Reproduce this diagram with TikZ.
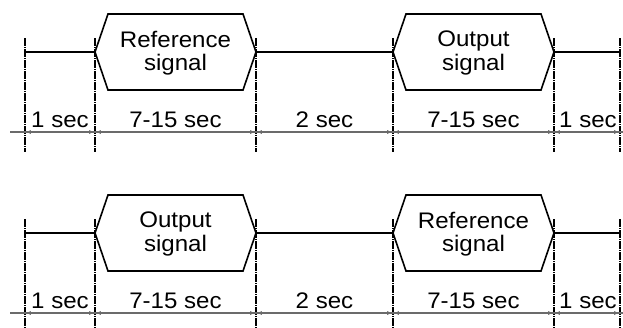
\documentclass[tikz,border=0pt]{standalone}
\usepackage{fontspec}
\setmainfont{Liberation Sans}[FakeStretch=1.07]
\usetikzlibrary{arrows.meta}
\tikzset{
  sigline/.style={line width=1.6pt, line join=miter},
  vline/.style={line width=1.6pt, dash pattern=on 8pt off 1pt on 1pt off 1pt},
  dimline/.style={draw=black!58, line width=1.4pt},
  dimarrow/.style={draw=black!58, line width=1pt, {Latex[length=5pt,width=4pt]}-{Latex[length=5pt,width=4pt]}, shorten <=0.8pt, shorten >=0.8pt},
  lbl/.style={font=\fontsize{22.5}{23.5}\selectfont, align=center, inner sep=0pt},
}
\newcommand\tmrow[4]{%
\begin{scope}[shift={(0,#1)}]
  % vertical marks
  \foreach \n/\x in {a/25,b/95,c/256,d/393,e/554,f/620}{
    \coordinate (#2\n t) at (\x,38);
    \coordinate (#2\n b) at (\x,152);
    \coordinate (#2\n s) at (\x,52);
    \coordinate (#2\n d) at (\x,132);
    \draw[vline] (#2\n t) -- (#2\n b);
  }
  % signal
  \draw[sigline] (#2as) -- (#2bs);
  \draw[sigline] (#2bs) -- (108,14) -- (243,14) -- (#2cs) -- (243,90) -- (108,90) -- cycle;
  \draw[sigline] (#2cs) -- (#2ds);
  \draw[sigline] (#2ds) -- (406,14) -- (541,14) -- (#2es) -- (541,90) -- (406,90) -- cycle;
  \draw[sigline] (#2es) -- (#2fs);
  \node[lbl] (#2h1) at (175.5,53) {#3};
  \node[lbl] (#2h2) at (473.5,53) {#4};
  % dimension line
  \coordinate (#2dl) at (10,132);
  \coordinate (#2dr) at (623,132);
  \draw[dimline] (#2dl) -- (#2dr);
  \draw[dimarrow] (#2ad) -- (#2bd);
  \draw[dimarrow] (#2bd) -- (#2cd);
  \draw[dimarrow] (#2cd) -- (#2dd);
  \draw[dimarrow] (#2dd) -- (#2ed);
  \draw[dimarrow] (#2ed) -- (#2fd);
  \node[lbl, anchor=base] (#2l1) at (60,127) {1 sec};
  \node[lbl, anchor=base] (#2l2) at (175.5,127) {7-15 sec};
  \node[lbl, anchor=base] (#2l3) at (324.5,127) {2 sec};
  \node[lbl, anchor=base] (#2l4) at (473.5,127) {7-15 sec};
  \node[lbl, anchor=base] (#2l5) at (588,127) {1 sec};
\end{scope}}
\begin{document}
\begin{tikzpicture}[x=1pt,y=-1pt]
\useasboundingbox (0,0) rectangle (623,327);
\tmrow{0}{r1}{Reference\\signal}{Output\\signal}
\tmrow{181}{r2}{Output\\signal}{Reference\\signal}
\end{tikzpicture}
\end{document}
